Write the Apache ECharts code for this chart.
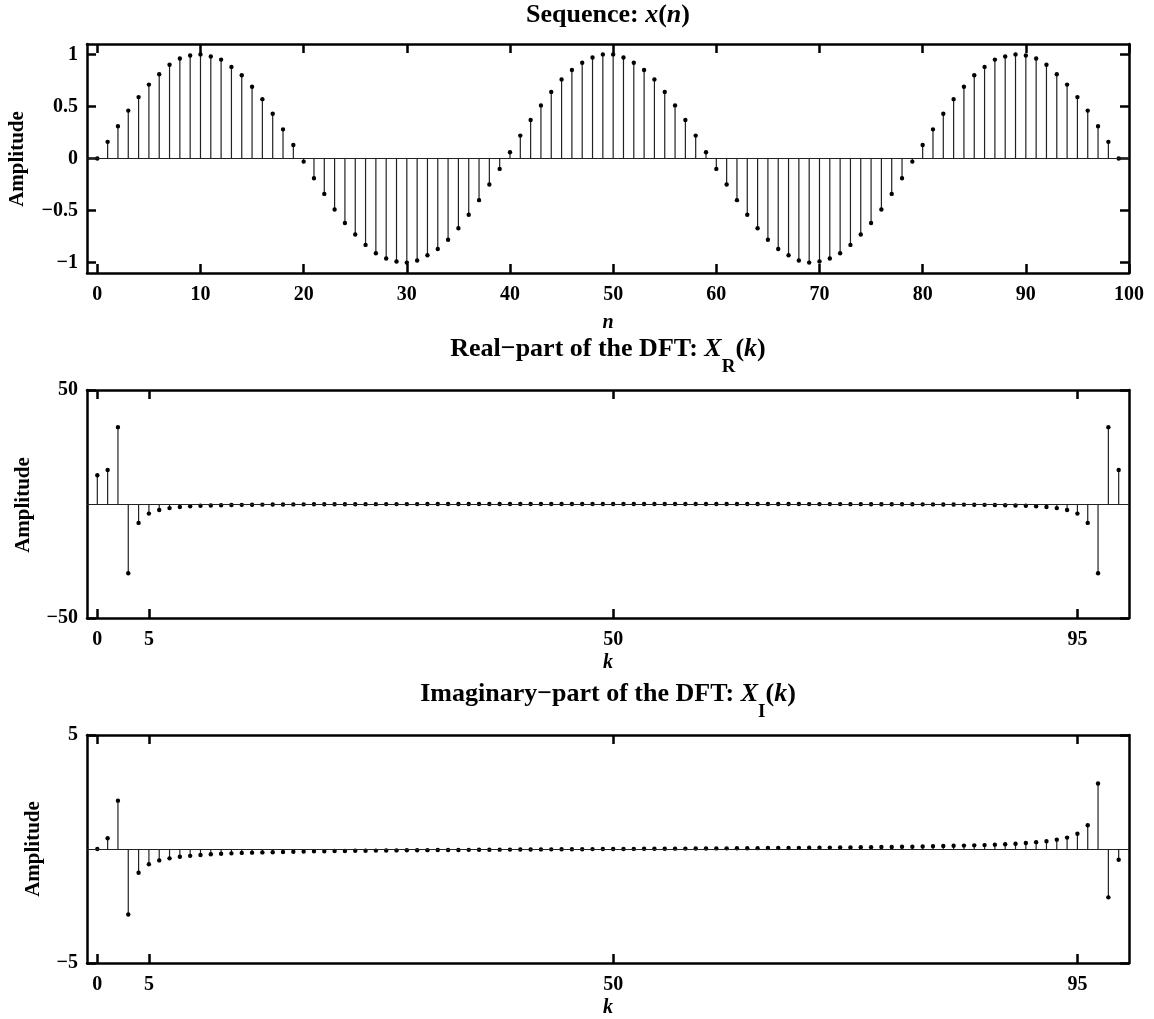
<!DOCTYPE html>
<html>
<head>
<meta charset="utf-8">
<script src="https://cdn.jsdelivr.net/npm/echarts@6/dist/echarts.min.js"></script>
<style>
html,body{margin:0;padding:0;background:#fff;}
#chart{width:1154px;height:1019px;}
</style>
</head>
<body>
<div id="chart"></div>
<script>
// ---- data ----
const nIdx = Array.from({length:100}, (_, i) => i);   // n = 0..99 and k = 0..99
const xn = [
  0, 0.16, 0.31, 0.46, 0.59, 0.71, 0.81, 0.90, 0.96, 0.99,
  1.00, 0.98, 0.95, 0.88, 0.80, 0.69, 0.57, 0.43, 0.28, 0.13,
  -0.03, -0.19, -0.34, -0.49, -0.62, -0.73, -0.83, -0.91, -0.96, -0.99,
  -1.00, -0.98, -0.93, -0.87, -0.78, -0.67, -0.54, -0.40, -0.25, -0.10,
  0.06, 0.22, 0.37, 0.51, 0.64, 0.76, 0.85, 0.92, 0.97, 1.00,
  1.00, 0.97, 0.92, 0.85, 0.76, 0.64, 0.51, 0.37, 0.22, 0.06,
  -0.10, -0.25, -0.40, -0.54, -0.67, -0.78, -0.87, -0.93, -0.98, -1.00,
  -0.99, -0.96, -0.91, -0.83, -0.73, -0.62, -0.49, -0.34, -0.19, -0.03,
  0.13, 0.28, 0.43, 0.57, 0.69, 0.80, 0.88, 0.95, 0.98, 1.00,
  0.99, 0.96, 0.90, 0.81, 0.71, 0.59, 0.46, 0.31, 0.16, 0
];
const XR = [
  12.6, 14.9, 33.7, -30.4, -8.3, -4.2, -2.6, -1.8, -1.3, -1.0,
  -0.80, -0.64, -0.53, -0.44, -0.37, -0.31, -0.27, -0.23, -0.20, -0.18,
  -0.16, -0.14, -0.13, -0.11, -0.10, -0.08, -0.07, -0.06, -0.05, -0.05,
  -0.04, -0.04, -0.03, -0.03, -0.03, -0.02, -0.02, -0.02, -0.02, -0.01,
  -0.01, -0.01, -0.01, -0.01, -0.01, 0, 0, 0, 0, 0,
  0, 0, 0, 0, 0, 0, -0.01, -0.01, -0.01, -0.01,
  -0.01, -0.01, -0.02, -0.02, -0.02, -0.02, -0.03, -0.03, -0.03, -0.04,
  -0.04, -0.05, -0.05, -0.06, -0.07, -0.08, -0.10, -0.11, -0.13, -0.14,
  -0.16, -0.18, -0.20, -0.23, -0.27, -0.31, -0.37, -0.44, -0.53, -0.64,
  -0.80, -1.0, -1.3, -1.8, -2.6, -4.2, -8.3, -30.4, 33.7, 14.9
];
const XI = [
  0, 0.47, 2.12, -2.87, -1.04, -0.67, -0.50, -0.41, -0.34, -0.30,
  -0.26, -0.23, -0.21, -0.19, -0.17, -0.16, -0.15, -0.14, -0.13, -0.12,
  -0.11, -0.10, -0.10, -0.09, -0.085, -0.08, -0.075, -0.07, -0.066, -0.062,
  -0.058, -0.054, -0.05, -0.047, -0.044, -0.041, -0.038, -0.035, -0.032, -0.029,
  -0.026, -0.023, -0.02, -0.018, -0.015, -0.013, -0.01, -0.008, -0.005, -0.003,
  0, 0.003, 0.005, 0.008, 0.01, 0.013, 0.015, 0.018, 0.02, 0.023,
  0.026, 0.029, 0.032, 0.035, 0.038, 0.041, 0.044, 0.047, 0.05, 0.054,
  0.058, 0.062, 0.066, 0.07, 0.075, 0.08, 0.085, 0.09, 0.10, 0.10,
  0.11, 0.12, 0.13, 0.14, 0.15, 0.16, 0.17, 0.19, 0.21, 0.23,
  0.26, 0.30, 0.34, 0.41, 0.50, 0.67, 1.04, 2.87, -2.12, -0.47
];
const xTicksSeq = [0, 10, 20, 30, 40, 50, 60, 70, 80, 90, 100];
const xTicksDFT = [0, 5, 50, 95];
const yTicksSeq = [-1, -0.5, 0, 0.5, 1];
const yTicksXR = [-50, 50];
const yTicksXI = [-5, 5];
const titles = ['Sequence: ', 'Real\u2212part of the DFT: ', 'Imaginary\u2212part of the DFT: '];

// ---- styling / layout ----
const FF = '"Liberation Serif", "Times New Roman", serif';
const AX_W = 2.5;
const grids = [
  {left: 87, right: 25, top: 44, height: 229},
  {left: 87, right: 25, top: 390, height: 228},
  {left: 87, right: 25, top: 735, height: 228}
];
const yRanges = [[-1.1, 1.1], [-50, 50], [-5, 5]];
const yTicks = [yTicksSeq, yTicksXR, yTicksXI];
const xTicks = [xTicksSeq, xTicksDFT, xTicksDFT];
const seriesVals = [xn, XR, XI];

function fmt(v) { return (v < 0 ? '\u2212' : '') + Math.abs(v); }

const xAxes = [], yAxes = [], series = [];
for (let g = 0; g < 3; g++) {
  ['bottom', 'top'].forEach((pos, j) => {
    xAxes.push({
      type: 'value', gridIndex: g, position: pos, min: -1, max: 100,
      axisLine: {show: true, onZero: false, lineStyle: {color: '#000', width: AX_W}},
      axisTick: {show: true, inside: true, length: 9, customValues: xTicks[g], lineStyle: {color: '#000', width: AX_W}},
      axisLabel: {show: j === 0, customValues: xTicks[g], margin: 12, color: '#000',
                  fontFamily: FF, fontWeight: 'bold', fontSize: 20, formatter: fmt},
      splitLine: {show: false}
    });
  });
  ['left', 'right'].forEach((pos, j) => {
    yAxes.push({
      type: 'value', gridIndex: g, position: pos, min: yRanges[g][0], max: yRanges[g][1],
      axisLine: {show: true, onZero: false, lineStyle: {color: '#000', width: AX_W}},
      axisTick: {show: true, inside: true, length: 9, customValues: yTicks[g], lineStyle: {color: '#000', width: AX_W}},
      axisLabel: {show: j === 0, customValues: yTicks[g], margin: 9, color: '#000',
                  fontFamily: FF, fontWeight: 'bold', fontSize: 20, formatter: fmt},
      splitLine: {show: false}
    });
  });
  series.push({
    type: 'custom',
    xAxisIndex: 2 * g, yAxisIndex: 2 * g,
    data: nIdx.map((n, i) => [n, seriesVals[g][i]]),
    renderItem: function (params, api) {
      const x = api.value(0), y = api.value(1);
      const p0 = api.coord([x, 0]);
      const p1 = api.coord([x, y]);
      return {
        type: 'group',
        children: [
          {type: 'line', shape: {x1: p0[0], y1: p0[1], x2: p1[0], y2: p1[1]},
           style: {stroke: '#222', lineWidth: 1.2}},
          {type: 'circle', shape: {cx: p1[0], cy: p1[1], r: 2.2}, style: {fill: '#000'}}
        ]
      };
    },
    markLine: {
      silent: true, symbol: ['none', 'none'], label: {show: false}, animation: false,
      lineStyle: {color: '#222', width: 1.2, type: 'solid'},
      data: [{yAxis: 0}]
    },
    z: 3
  });
}

const richBase = {fontFamily: FF, fontWeight: 'bold', fontSize: 26, lineHeight: 32, verticalAlign: 'top', color: '#000'};
const rich = {
  b: Object.assign({}, richBase),
  i: Object.assign({}, richBase, {fontStyle: 'italic'}),
  s: {fontFamily: FF, fontWeight: 'bold', fontSize: 19, lineHeight: 19, padding: [22, 0, 0, 0], verticalAlign: 'top', color: '#000'}
};
const titleTexts = [
  '{b|' + titles[0] + '}{i|x}{b|(}{i|n}{b|)}',
  '{b|' + titles[1] + '}{i|X}{s|R}{b|(}{i|k}{b|)}',
  '{b|' + titles[2] + '}{i|X}{s|I}{b|(}{i|k}{b|)}'
];
const titleTops = [2, 336, 681];

const labelFont = 'bold 21px ' + FF;
const italFont = 'italic bold 20px ' + FF;
function txt(x, y, text, font, rot) {
  return {type: 'text', x: x, y: y, rotation: rot || 0,
    style: {text: text, font: font, fill: '#000', align: 'center', verticalAlign: 'middle',
            textAlign: 'center', textVerticalAlign: 'middle'}};
}

const option = {
  animation: false,
  backgroundColor: '#fff',
  title: titleTexts.map((t, i) => ({
    text: t, left: 608, top: titleTops[i], textAlign: 'center', padding: 0,
    textStyle: {rich: rich}
  })),
  grid: grids,
  xAxis: xAxes,
  yAxis: yAxes,
  series: series,
  graphic: [
    txt(18, 159, 'Amplitude', labelFont, Math.PI / 2),
    txt(24, 505, 'Amplitude', labelFont, Math.PI / 2),
    txt(34, 849, 'Amplitude', labelFont, Math.PI / 2),
    txt(608, 323, 'n', italFont),
    txt(608, 663, 'k', italFont),
    txt(608, 1008, 'k', italFont)
  ]
};

const chart = echarts.init(document.getElementById('chart'), null, {renderer: 'canvas'});
chart.setOption(option);
</script>
</body>
</html>
